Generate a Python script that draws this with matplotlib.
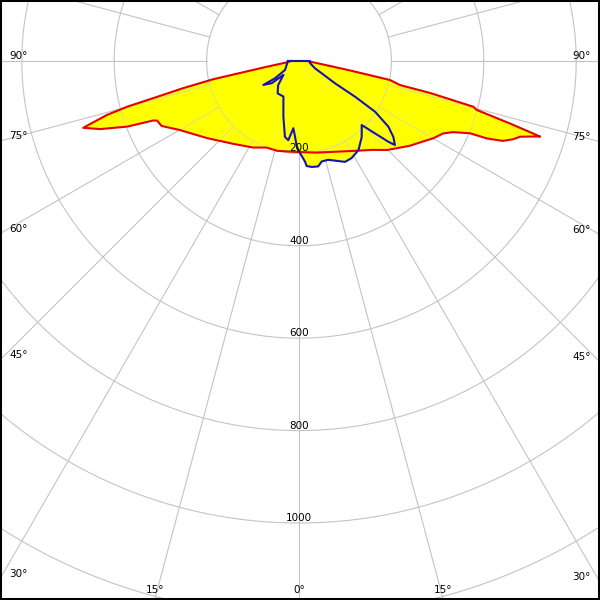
import numpy as np
import matplotlib
matplotlib.use("Agg")
import matplotlib.pyplot as plt

# luminous intensity, angle in degrees from nadir (negative = left side), value in cd
red_angles = [-90, -83.8, -79.9, -78.5, -78.0, -76.8, -75.7, -75.1, -74.3, -72.8,
              -71.1, -69.1, -67.8, -67.2, -64.7, -59.9, -50.1, -38.5, -27.9, -20.5,
              -13.7, -3.8, 0, 11.1, 29.5, 39.7, 44.7, 49.4, 52.6, 58.3,
              60.0, 63.3, 65.2, 67.1, 67.6, 68.6, 69.9, 71.1, 72.4, 72.6,
              72.8, 73.5, 74.6, 75.3, 76.3, 76.6, 78.2, 79.5, 84.0, 90]
red_values = [17, 26, 70, 131, 190, 258, 326, 385, 432, 489,
              455, 398, 341, 333, 329, 298, 260, 229, 212, 200,
              200, 197, 197, 202, 224, 250, 271, 288, 302, 326,
              335, 349, 367, 402, 440, 474, 493, 506, 540, 547,
              530, 476, 399, 390, 292, 225, 201, 113, 35, 17]

blue_angles = [-90, -57.3, -54.2, -56.1, -50.8, -48.3, -40.8, -33.4, -23.7, -15.7,
               -10.5, -7.7, -4.8, -3.0, -1.5, 0.6, 3.4, 4.2, 6.9, 10.3,
               12.7, 16.5, 24.5, 28.4, 33.7, 39.6, 44.4, 47.9, 48.8, 51.2,
               53.7, 56.3, 57.5, 58.2, 65.5, 79.7, 90]
blue_values = [24, 36, 64, 93, 76, 45, 69, 84, 84, 125,
               167, 173, 146, 164, 185, 199, 218, 228, 231, 232,
               223, 223, 240, 239, 232, 213, 194, 261, 276, 262,
               240, 198, 144, 92, 38, 24, 24]

rings = [200, 400, 600, 800, 1000, 1200]
ring_labels = ["200", "400", "600", "800", "1000"]
angle_labels = [0, 15, 30, 45, 60, 75, 90]


def to_xy(angles, values):
    a = np.radians(angles)
    v = np.asarray(values, dtype=float)
    return v * np.sin(a), -v * np.cos(a)


fig = plt.figure(figsize=(6, 6), dpi=100)
ax = fig.add_axes([0, 0, 1, 1])
px = 0.462  # pixels per cd
x0, x1 = -299 / px, 301 / px
y0, y1 = -539 / px, 61 / px
ax.set_xlim(x0, x1)
ax.set_ylim(y0, y1)
ax.set_xticks([])
ax.set_yticks([])
for s in ax.spines.values():
    s.set_linewidth(2.9)
    s.set_color("black")
    s.set_zorder(10)

t = np.linspace(0, 2 * np.pi, 400)


def draw_grid(color, z, clip=None):
    lines = []
    for r in rings:
        lines += ax.plot(r * np.cos(t), r * np.sin(t), color=color, lw=0.8, zorder=z)
    for a in range(0, 360, 15):
        xs, ys = to_xy([a, a], [200, 1600])
        lines += ax.plot(xs, ys, color=color, lw=0.8, zorder=z)
    if clip is not None:
        for ln in lines:
            ln.set_clip_path(clip)


draw_grid("#c4c4c4", 1)

rx, ry = to_xy(red_angles, red_values)
bx, by = to_xy(blue_angles, blue_values)
red_patch = ax.fill(rx, ry, color="#ffff00", lw=0, zorder=2)[0]
blue_patch = ax.fill(bx, by, color="#ffff00", lw=0, zorder=2)[0]
# grid shows faintly through the filled area
draw_grid("#e2e27a", 2.5, red_patch)
draw_grid("#e2e27a", 2.5, blue_patch)

ax.plot(np.append(rx, rx[0]), np.append(ry, ry[0]), color="#e60000", lw=1.5, zorder=3)
ax.plot(np.append(bx, bx[0]), np.append(by, by[0]), color="#1414b4", lw=1.5, zorder=4)

fs = 7.5
for r, lab in zip(rings, ring_labels):
    ax.annotate(lab, (0, -r), xytext=(0, 1.5), textcoords="offset points",
                ha="center", va="baseline", fontsize=fs, zorder=5)

# angle labels where each ray meets the frame
for a in angle_labels:
    for side in ([1] if a == 0 else [-1, 1]):
        dx, dy = np.sin(np.radians(a)) * side, -np.cos(np.radians(a))
        cands = []
        if dx > 1e-9:
            cands.append((x1 / dx, "r"))
        if dx < -1e-9:
            cands.append((x0 / dx, "l"))
        cands.append((y0 / dy, "b"))
        tt, edge = min(cands)
        px_, py_ = tt * dx, tt * dy
        txt = f"{a}°"
        if edge == "b":
            ax.annotate(txt, (px_, y0), xytext=(0, 5), textcoords="offset points",
                        ha="center", va="baseline", fontsize=fs, zorder=5)
        elif edge == "l":
            ax.annotate(txt, (x0, py_), xytext=(6.5, 1.5), textcoords="offset points",
                        ha="left", va="baseline", fontsize=fs, zorder=5)
        else:
            ax.annotate(txt, (x1, py_), xytext=(-6.5, 1.5), textcoords="offset points",
                        ha="right", va="baseline", fontsize=fs, zorder=5)

fig.savefig("out.png", dpi=100)
